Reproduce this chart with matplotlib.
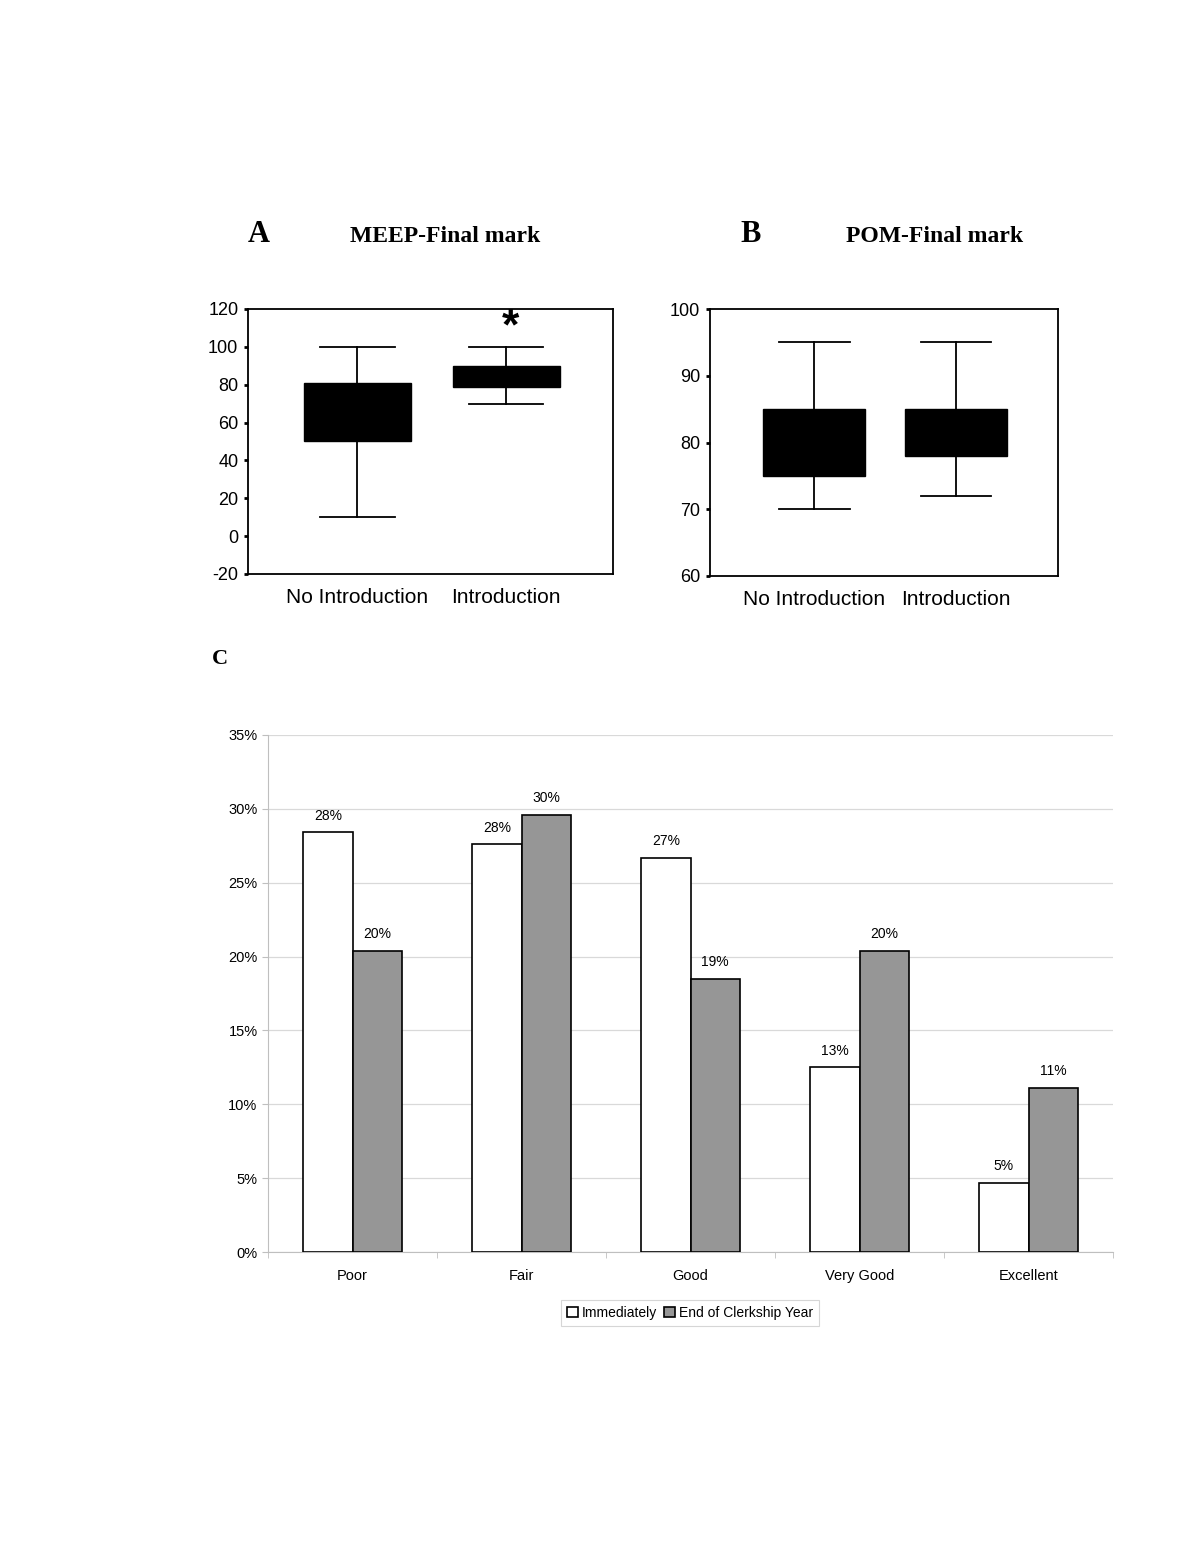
import matplotlib

matplotlib.use("Agg")

import matplotlib.pyplot as plt
import numpy as np
from matplotlib.ticker import FixedLocator, PercentFormatter

plt.rcParams["font.family"] = ["Liberation Sans", "DejaVu Sans"]
plt.rcParams["axes.unicode_minus"] = False

# panel A / B box summaries
groups = ["No Introduction", "Introduction"]
meep_low = [10, 70]
meep_q1 = [50, 79]
meep_q3 = [81, 90]
meep_high = [100, 100]
pom_low = [70, 72]
pom_q1 = [75, 78]
pom_q3 = [85, 85]
pom_high = [95, 95]

# panel C
ratings = ["Poor", "Fair", "Good", "Very Good", "Excellent"]
immediately = [28.4, 27.6, 26.7, 12.5, 4.7]
end_of_year = [20.4, 29.6, 18.5, 20.4, 11.1]
immediately_labels = ["28%", "28%", "27%", "13%", "5%"]
end_labels = ["20%", "30%", "19%", "20%", "11%"]

W, H = 1200, 1553
fig = plt.figure(figsize=(W / 100, H / 100), dpi=100)


def px_axes(x0, y0, x1, y1):
    return fig.add_axes([x0 / W, 1 - y1 / H, (x1 - x0) / W, (y1 - y0) / H])


def box_panel(ax, low, q1, q3, high, ylim, yticks):
    stats = []
    for lo, a, b, hi in zip(low, q1, q3, high):
        stats.append({"whislo": lo, "q1": a, "med": (a + b) / 2, "q3": b, "whishi": hi, "fliers": []})
    ax.bxp(stats, positions=[1, 2], widths=0.72, patch_artist=True, showfliers=False,
           boxprops=dict(facecolor="black", edgecolor="black"),
           medianprops=dict(color="black", linewidth=0),
           whiskerprops=dict(color="black", linewidth=1.3),
           capprops=dict(color="black", linewidth=1.3),
           capwidths=0.5)
    ax.set_xlim(0.263, 2.72)
    ax.set_ylim(*ylim)
    ax.set_yticks(yticks)
    ax.set_xticks([1, 2])
    ax.set_xticklabels(groups, fontsize=15)
    ax.tick_params(axis="x", length=0, pad=10)
    ax.tick_params(axis="y", direction="out", length=3, width=2, labelsize=13, pad=4)
    for s in ax.spines.values():
        s.set_linewidth(1.3)


axA = px_axes(248, 309, 613, 574)
box_panel(axA, meep_low, meep_q1, meep_q3, meep_high, (-20, 120), range(-20, 121, 20))
axA.text(2.03, 110, "*", ha="center", va="center", fontsize=32, fontweight="bold")

axB = px_axes(710, 309, 1058, 576)
box_panel(axB, pom_low, pom_q1, pom_q3, pom_high, (60, 100), range(60, 101, 10))

serif = ["Liberation Serif", "DejaVu Serif"]
fig.text(259 / W, 1 - 235 / H, "A", family=serif, fontsize=22, fontweight="bold", ha="center", va="center")
fig.text(445 / W, 1 - 236 / H, "MEEP-Final mark", family=serif, fontsize=17, fontweight="bold", ha="center", va="center")
fig.text(751 / W, 1 - 235 / H, "B", family=serif, fontsize=22, fontweight="bold", ha="center", va="center")
fig.text(935 / W, 1 - 236 / H, "POM-Final mark", family=serif, fontsize=17, fontweight="bold", ha="center", va="center")
fig.text(220 / W, 1 - 659 / H, "C", family=serif, fontsize=16, fontweight="bold", ha="center", va="center")

# panel C bars
axC = px_axes(268, 735, 1113, 1252)
x = np.arange(len(ratings))
bw = 0.29
b1 = axC.bar(x - bw / 2, immediately, bw, color="white", edgecolor="black", linewidth=1.2,
             label="Immediately", zorder=3)
b2 = axC.bar(x + bw / 2, end_of_year, bw, color="#969696", edgecolor="black", linewidth=1.2,
             label="End of Clerkship Year", zorder=3)
for rects, labels in ((b1, immediately_labels), (b2, end_labels)):
    for r, lab in zip(rects, labels):
        axC.annotate(lab, (r.get_x() + r.get_width() / 2, r.get_height()), xytext=(0, 7),
                     textcoords="offset points", ha="center", va="bottom", fontsize=10)

axC.set_xlim(-0.5, len(ratings) - 0.5)
axC.set_ylim(0, 35)
axC.set_yticks(np.arange(0, 36, 5))
axC.yaxis.set_major_formatter(PercentFormatter(decimals=0))
axC.grid(axis="y", color="#d9d9d9", linewidth=0.9, zorder=0)
axC.set_xticks(x)
axC.set_xticklabels(ratings, fontsize=10.5)
axC.xaxis.set_minor_locator(FixedLocator(np.arange(-0.5, len(ratings), 1)))
axC.tick_params(axis="x", which="major", length=0, pad=12)
axC.tick_params(axis="x", which="minor", length=4, color="#bfbfbf")
axC.tick_params(axis="y", length=4, color="#bfbfbf", labelsize=10.5)
for side in ("top", "right"):
    axC.spines[side].set_visible(False)
axC.spines["left"].set_color("#bfbfbf")
axC.spines["bottom"].set_color("#bfbfbf")

leg = axC.legend(loc="center", bbox_to_anchor=(690 / W, 1 - 1313 / H), bbox_transform=fig.transFigure,
                 ncol=2, fontsize=10, frameon=True, fancybox=False, handlelength=0.8, handleheight=0.8,
                 handletextpad=0.3, columnspacing=0.5, borderpad=0.4)
leg.get_frame().set_edgecolor("#cccccc")
leg.get_frame().set_linewidth(0.8)

fig.savefig("out.png", dpi=100)
